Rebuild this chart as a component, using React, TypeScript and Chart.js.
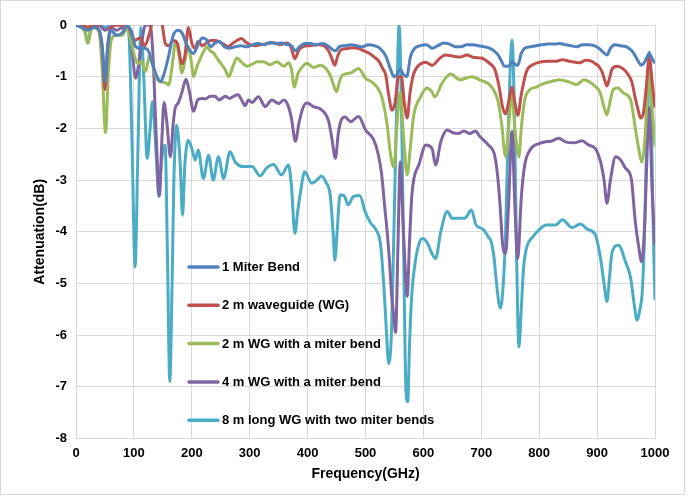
import React, { useEffect, useRef } from "react";
import { Chart, registerables } from "chart.js";

Chart.register(...registerables);

// ---------------- DATA ----------------
const seriesLabels = [
  "1 Miter Bend",
  "2 m waveguide (WG)",
  "2 m WG with a miter bend",
  "4 m WG with a miter bend",
  "8 m long WG with two miter bends",
];

const freqBlue = [0, 10, 20, 30, 40, 46, 50, 54, 60, 70, 80, 88, 95, 102, 110, 118, 125, 132, 140, 146, 152, 160, 168, 176, 183, 190, 197, 203, 210, 218, 225, 233, 240, 248, 256, 265, 275, 285, 295, 305, 315, 325, 335, 345, 355, 365, 372, 379, 386, 395, 405, 415, 425, 435, 442, 448, 455, 465, 475, 485, 495, 505, 515, 525, 535, 543, 549, 555, 560, 565, 571, 578, 585, 595, 605, 615, 625, 635, 645, 655, 665, 675, 685, 695, 705, 715, 722, 729, 735, 740, 745, 749, 753, 757, 763, 769, 775, 785, 795, 805, 815, 825, 835, 845, 855, 865, 875, 885, 895, 903, 910, 917, 923, 930, 940, 950, 960, 966, 972, 976, 980, 985, 990, 995, 1000];
const attBlue = [0, -0.05, -0.1, -0.05, -0.1, -0.5, -1.1, -0.5, -0.1, -0.2, -0.15, -0.02, -0.1, -0.4, -0.45, -0.45, -0.5, -0.75, -1.0, -1.1, -0.95, -0.6, -0.2, -0.1, -0.15, -0.35, -0.5, -0.55, -0.4, -0.25, -0.28, -0.42, -0.35, -0.32, -0.42, -0.45, -0.42, -0.4, -0.42, -0.38, -0.36, -0.38, -0.34, -0.36, -0.35, -0.38, -0.4, -0.5, -0.42, -0.36, -0.36, -0.38, -0.36, -0.4, -0.47, -0.5, -0.42, -0.4, -0.38, -0.4, -0.42, -0.38, -0.4, -0.45, -0.6, -0.85, -1.0, -0.95, -0.85, -0.95, -1.0, -0.6, -0.45, -0.4, -0.38, -0.45, -0.4, -0.35, -0.37, -0.42, -0.42, -0.38, -0.38, -0.4, -0.42, -0.45, -0.5, -0.58, -0.7, -0.8, -0.8, -0.78, -0.7, -0.75, -0.78, -0.55, -0.45, -0.42, -0.4, -0.38, -0.37, -0.37, -0.36, -0.38, -0.4, -0.42, -0.38, -0.38, -0.4, -0.45, -0.52, -0.58, -0.45, -0.38, -0.4, -0.42, -0.5, -0.6, -0.72, -0.78, -0.75, -0.65, -0.55, -0.65, -0.74];

const freqRed = [0, 10, 20, 30, 40, 45, 50, 55, 60, 70, 80, 88, 95, 102, 110, 119, 126, 134, 142, 148, 154, 160, 168, 175, 183, 188, 194, 200, 205, 211, 218, 225, 232, 240, 248, 256, 263, 270, 278, 286, 293, 300, 310, 320, 330, 340, 352, 364, 371, 378, 385, 392, 404, 418, 428, 435, 441, 447, 452, 458, 467, 477, 487, 497, 507, 515, 523, 530, 535, 540, 546, 551, 557, 562, 567, 572, 577, 583, 592, 604, 615, 627, 638, 650, 663, 675, 688, 700, 714, 723, 730, 737, 742, 747, 753, 758, 763, 769, 778, 789, 800, 815, 830, 840, 852, 863, 870, 880, 890, 897, 903, 909, 914, 917, 921, 926, 935, 945, 953, 960, 966, 971, 975, 980, 985, 990, 995, 1000];
const attRed = [0, 0, -0.05, 0, -0.1, -0.4, -1.25, -0.4, -0.05, 0, 0, 0, -0.15, -0.3, -0.25, -0.4, -0.2, 0.1, 0.1, 0.05, -0.35, -0.4, -0.3, -0.35, -0.75, -0.6, -0.05, -0.35, -0.45, -0.32, -0.4, -0.35, -0.3, -0.3, -0.33, -0.38, -0.42, -0.36, -0.3, -0.26, -0.33, -0.38, -0.4, -0.38, -0.36, -0.34, -0.38, -0.35, -0.42, -0.65, -0.48, -0.42, -0.4, -0.38, -0.4, -0.48, -0.62, -0.78, -0.6, -0.48, -0.46, -0.44, -0.45, -0.5, -0.55, -0.62, -0.7, -0.85, -0.97, -1.35, -1.65, -1.5, -1.0, -1.0, -1.5, -1.8, -1.3, -0.95, -0.78, -0.72, -0.78, -0.66, -0.58, -0.6, -0.62, -0.58, -0.63, -0.64, -0.74, -0.85, -1.15, -1.6, -1.72, -1.5, -1.2, -1.5, -1.75, -1.35, -0.9, -0.77, -0.72, -0.7, -0.7, -0.67, -0.7, -0.72, -0.73, -0.68, -0.7, -0.75, -0.8, -0.92, -1.1, -1.18, -1.05, -0.85, -0.8, -0.85, -0.95, -1.1, -1.42, -1.65, -1.8, -1.7, -1.2, -0.6, -1.1, -1.6];

const freqGreen = [0, 10, 16, 21, 26, 32, 40, 45, 51, 56, 62, 70, 80, 88, 95, 101, 107, 113, 120, 127, 133, 140, 148, 155, 160, 166, 172, 178, 183, 188, 194, 199, 203, 209, 215, 221, 226, 232, 238, 244, 250, 257, 264, 271, 278, 286, 295, 304, 313, 324, 335, 347, 359, 367, 372, 377, 383, 390, 399, 410, 422, 433, 440, 446, 450, 455, 460, 474, 488, 500, 514, 528, 537, 543, 549, 554, 560, 566, 572, 577, 583, 595, 606, 614, 620, 632, 647, 663, 683, 697, 717, 729, 735, 742, 747, 753, 758, 765, 769, 775, 783, 795, 811, 825, 834, 851, 865, 877, 897, 905, 911, 917, 922, 928, 935, 946, 958, 966, 972, 977, 982, 986, 990, 995, 1000];
const attGreen = [0, -0.05, -0.15, -0.35, -0.1, -0.05, -0.15, -0.8, -2.08, -0.9, -0.25, -0.2, -0.2, -0.05, -0.3, -0.6, -0.75, -0.7, -0.9, -0.6, -0.8, -1.05, -1.1, -1.12, -1.16, -0.8, -0.32, -0.6, -0.93, -0.7, -0.42, -0.7, -1.0, -0.8, -0.64, -0.5, -0.42, -0.5, -0.55, -0.65, -0.74, -0.85, -1.0, -0.8, -0.64, -0.72, -0.8, -0.76, -0.71, -0.71, -0.77, -0.71, -0.8, -0.73, -0.85, -1.2, -0.95, -0.82, -0.74, -0.82, -0.78, -0.86, -1.0, -1.2, -1.29, -1.1, -0.97, -0.93, -0.84, -1.03, -1.13, -1.39, -1.9, -2.48, -2.75, -2.0, -1.3, -2.2, -2.9, -2.42, -1.77, -1.39, -1.22, -1.28, -1.39, -1.13, -0.95, -1.06, -1.0, -1.06, -1.19, -1.48, -1.9, -2.55, -2.0, -1.3, -2.0, -2.55, -2.0, -1.45, -1.26, -1.2, -1.12, -1.08, -1.06, -1.1, -1.15, -1.06, -1.19, -1.3, -1.55, -1.74, -1.5, -1.25, -1.22, -1.32, -1.45, -2.0, -2.4, -2.65, -2.3, -1.5, -0.9, -1.6, -2.35];

const freqPurple = [0, 10, 20, 30, 40, 50, 60, 70, 80, 85, 90, 96, 103, 109, 114, 120, 128, 133, 138, 144, 148, 152, 157, 163, 168, 171, 177, 183, 190, 196, 203, 210, 217, 223, 232, 240, 247, 252, 258, 265, 272, 280, 286, 292, 298, 304, 315, 327, 338, 350, 359, 366, 372, 379, 385, 392, 399, 410, 424, 436, 442, 448, 453, 458, 465, 474, 488, 500, 514, 522, 528, 533, 537, 541, 545, 549, 552, 556, 560, 564, 568, 572, 576, 580, 584, 592, 604, 615, 621, 630, 641, 650, 660, 670, 680, 690, 697, 712, 723, 728, 732, 737, 742, 747, 753, 758, 763, 769, 775, 786, 801, 811, 820, 834, 845, 860, 874, 885, 897, 906, 912, 917, 923, 932, 940, 949, 959, 966, 972, 977, 982, 986, 990, 995, 1000];
const attPurple = [0, 0, -0.05, 0, 0, -0.1, -0.05, -0.1, -0.05, -0.1, -0.05, -0.4, -1.03, -0.7, -0.3, 0, 0, -0.6, -2.0, -3.3, -2.3, -1.5, -1.9, -2.55, -1.9, -1.62, -1.5, -1.3, -1.05, -1.3, -1.67, -1.45, -1.42, -1.43, -1.38, -1.38, -1.45, -1.42, -1.38, -1.42, -1.38, -1.35, -1.45, -1.56, -1.45, -1.5, -1.39, -1.58, -1.45, -1.52, -1.45, -1.55, -1.8, -2.25, -1.9, -1.6, -1.51, -1.58, -1.64, -1.85, -2.2, -2.58, -2.1, -1.84, -1.78, -1.87, -1.77, -2.03, -2.22, -2.5, -2.9, -3.5, -3.95, -4.5, -5.2, -5.65, -5.95, -4.3, -2.65, -3.6, -4.6, -5.25, -4.2, -3.3, -2.95, -2.71, -2.32, -2.39, -2.71, -2.26, -2.03, -2.08, -2.1, -2.05, -2.1, -2.05, -2.15, -2.32, -2.52, -2.9, -3.42, -4.26, -4.42, -3.5, -2.06, -3.5, -4.52, -3.35, -2.71, -2.39, -2.29, -2.26, -2.25, -2.19, -2.26, -2.28, -2.24, -2.32, -2.39, -2.65, -3.0, -3.45, -3.0, -2.55, -2.6, -2.77, -2.97, -3.81, -4.3, -4.58, -3.9, -2.6, -1.6, -3.2, -4.26];

const freqCyan = [0, 10, 16, 20, 25, 30, 40, 50, 60, 70, 80, 88, 92, 97, 102, 107, 112, 117, 123, 128, 132, 138, 143, 148, 154, 158, 162, 166, 169, 174, 180, 184, 188, 194, 200, 206, 211, 220, 229, 237, 246, 255, 266, 275, 289, 304, 318, 329, 341, 355, 367, 372, 378, 383, 387, 395, 407, 416, 424, 432, 439, 444, 447, 451, 456, 463, 470, 479, 490, 500, 510, 517, 526, 532, 536, 540, 545, 550, 554, 558, 562, 566, 570, 573, 576, 580, 586, 592, 598, 606, 614, 621, 630, 641, 650, 657, 671, 683, 691, 703, 712, 717, 722, 726, 733, 738, 742, 746, 750, 753, 757, 761, 765, 769, 773, 778, 789, 801, 812, 828, 840, 857, 871, 883, 897, 906, 912, 917, 922, 926, 937, 949, 958, 964, 969, 974, 978, 982, 986, 990, 994, 997, 1000];
const attCyan = [0, 0, -0.15, -0.35, -0.1, 0, 0, -0.05, 0, 0, 0, 0, -0.3, -2.4, -4.68, -2.4, -0.05, -1.0, -2.58, -2.0, -1.48, -2.4, -3.32, -2.6, -2.32, -4.5, -6.9, -5.0, -3.03, -1.94, -2.7, -3.68, -2.7, -2.23, -2.39, -2.61, -2.42, -2.97, -2.52, -3.0, -2.55, -2.97, -2.45, -2.65, -2.74, -2.74, -2.92, -2.77, -2.7, -2.9, -2.71, -3.1, -4.03, -3.6, -3.29, -2.84, -3.06, -3.0, -2.92, -3.05, -3.29, -4.0, -4.55, -4.0, -3.29, -3.3, -3.48, -3.32, -3.3, -3.63, -3.85, -3.94, -4.25, -5.1, -5.9, -6.55, -5.9, -3.5, -1.5, 0, -1.5, -4.5, -7.1, -7.29, -6.2, -5.2, -4.58, -4.25, -4.13, -4.2, -4.4, -4.52, -4.0, -3.61, -3.74, -3.74, -3.74, -3.58, -3.87, -3.95, -4.1, -4.19, -4.5, -4.97, -5.48, -5.0, -4.0, -2.2, -0.8, -0.29, -1.6, -4.5, -6.23, -5.5, -4.7, -4.32, -4.1, -3.95, -3.87, -3.87, -3.77, -3.92, -3.85, -3.95, -4.06, -4.52, -5.0, -5.35, -4.8, -4.39, -4.26, -4.58, -4.9, -5.4, -5.71, -5.5, -5.16, -4.0, -2.0, -0.52, -2.0, -4.0, -5.32];

const seriesFreqs = [freqBlue, freqRed, freqGreen, freqPurple, freqCyan];
const seriesValues = [attBlue, attRed, attGreen, attPurple, attCyan];
const seriesColors = ["#4F81BD", "#C0504D", "#9BBB59", "#8064A2", "#4BACC6"];

const xMin = 0;
const xMax = 1000;
const xStep = 100;
const yMin = -8;
const yMax = 0;
const yStep = 1;
const xTitle = "Frequency(GHz)";
const yTitle = "Attenuation(dB)";

// ---------------- STYLE ----------------
const FONT = '"Liberation Sans", Arial, sans-serif';
const GRID = "#d9d9d9";

const insideLegend = {
  id: "insideLegend",
  afterDatasetsDraw(chart: any) {
    const { ctx, chartArea } = chart;
    ctx.save();
    chart.data.datasets.forEach((ds: any, i: number) => {
      const y = chartArea.top + 242 + i * 38.3;
      const x0 = chartArea.left + 113;
      ctx.strokeStyle = ds.borderColor;
      ctx.lineWidth = 3.5;
      ctx.lineCap = "round";
      ctx.beginPath();
      ctx.moveTo(x0, y);
      ctx.lineTo(x0 + 29, y);
      ctx.stroke();
      ctx.fillStyle = "#000";
      ctx.font = "bold 13px " + FONT;
      ctx.textBaseline = "middle";
      ctx.textAlign = "left";
      ctx.fillText(ds.label, x0 + 33, y + 0.5);
    });
    ctx.restore();
  },
};

export default function App() {
  const ref = useRef<HTMLCanvasElement | null>(null);

  useEffect(() => {
    if (!ref.current) return;
    const datasets = seriesLabels.map((label, i) => ({
      label,
      data: seriesFreqs[i].map((f, j) => ({ x: f, y: seriesValues[i][j] })),
      borderColor: seriesColors[i],
      backgroundColor: seriesColors[i],
      borderWidth: 3,
      pointRadius: 0,
      fill: false,
      cubicInterpolationMode: "monotone" as const,
    }));
    const chart = new Chart(ref.current, {
      type: "line",
      data: { datasets },
      plugins: [insideLegend],
      options: {
        animation: false,
        responsive: false,
        devicePixelRatio: 1,
        layout: { padding: { top: 25, right: 35, bottom: 0, left: 0 } },
        plugins: { legend: { display: false }, tooltip: { enabled: false } },
        scales: {
          x: {
            type: "linear",
            min: xMin,
            max: xMax,
            afterFit: (s: any) => { s.height = 58.5; },
            ticks: {
              stepSize: xStep,
              padding: 7,
              color: "#000",
              font: { family: FONT, size: 13, weight: "bold" },
              maxRotation: 0,
              callback: (v: any) => String(v),
            },
            grid: { color: GRID, lineWidth: 1, drawTicks: false },
            border: { color: GRID, width: 1 },
            title: {
              display: true,
              text: xTitle,
              color: "#000",
              font: { family: FONT, size: 14, weight: "bold" },
              padding: { top: 0, bottom: 14 },
            },
          },
          y: {
            type: "linear",
            min: yMin,
            max: yMax,
            afterFit: (s: any) => { s.width = 76; },
            ticks: {
              stepSize: yStep,
              padding: 9,
              color: "#000",
              font: { family: FONT, size: 13, weight: "bold" },
              callback: (v: any) => String(v),
            },
            grid: { color: GRID, lineWidth: 1, drawTicks: false },
            border: { color: GRID, width: 1 },
            title: {
              display: true,
              text: yTitle,
              color: "#000",
              font: { family: FONT, size: 14, weight: "bold" },
              padding: { top: 32, bottom: 0 },
            },
          },
        },
      },
    });
    return () => chart.destroy();
  }, []);

  return (
    <div style={{ position: "absolute", left: 0, top: 0, width: 690, height: 497, background: "#fff" }}>
      <canvas ref={ref} width={690} height={497} style={{ display: "block" }} />
      <div
        style={{
          position: "absolute",
          left: 0,
          top: 0,
          width: 683,
          height: 493,
          border: "1px solid " + GRID,
          pointerEvents: "none",
        }}
      />
    </div>
  );
}
